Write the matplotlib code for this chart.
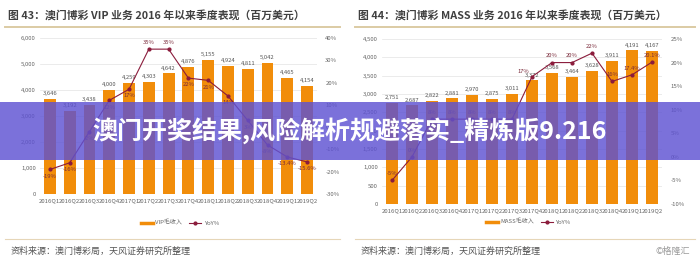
import matplotlib
matplotlib.use("Agg")
import matplotlib.pyplot as plt
from matplotlib.lines import Line2D
from matplotlib.patches import Rectangle
from matplotlib.ticker import FuncFormatter, MultipleLocator

plt.rcParams['font.family'] = ['Noto Sans CJK SC', 'DejaVu Sans']

quarters = ["2016Q1", "2016Q2", "2016Q3", "2016Q4", "2017Q1", "2017Q2", "2017Q3",
            "2017Q4", "2018Q1", "2018Q2", "2018Q3", "2018Q4", "2019Q1", "2019Q2"]

vip_revenue = [3646, 3192, 3438, 4000, 4259, 4303, 4642, 4876, 5155, 4924, 4811, 5042, 4465, 4154]
vip_yoy = [-19, -16, -2, 12, 17, 35, 35, 22, 21, 14, 3, -8, -13.4, -15.6]
vip_yoy_labels = ["-19%", "-16%", "-2%", "12%", "17%", "35%", "35%", "22%", "21%", "14%",
                  "3%", "-8%", "-13.4%", "-15.6%"]

mass_revenue = [2751, 2687, 2822, 2881, 2970, 2875, 3011, 3372, 3568, 3464, 3628, 3911, 4191, 4167]
mass_yoy = [-5, 0, 8, 8, 8, 8, 8, 17, 20, 20, 22, 16, 17.4, 20.1]
mass_yoy_labels = ["-5%", "0%", "8%", "8%", "8%", "8%", "8%", "17%", "20%", "20%", "22%",
                   "16%", "17.4%", "20.1%"]

titles = ["图 43：澳门博彩 VIP 业务 2016 年以来季度表现（百万美元）",
          "图 44：澳门博彩 MASS 业务 2016 年以来季度表现（百万美元）"]
bar_names = ["VIP毛收入", "MASS毛收入"]
line_name = "YoY%"
source_text = "资料来源：澳门博彩局，天风证券研究所整理"
watermark = "©格隆汇"
banner_text = "澳门开奖结果,风险解析规避落实_精炼版9.216"

BAR = '#f18d0a'
LINE = '#8b1c3c'
TICK = '#666666'
W, H = 700, 261

fig = plt.figure(figsize=(7.0, 2.61), dpi=100)
fig.patch.set_facecolor('white')


def fx(px):
    return px / W


def fy(py):
    return 1 - py / H


def panel(rect, revenue, yoy, yoy_labels, ylim, ystep, plim, pstep, label_pos):
    ax = fig.add_axes(rect)
    x = list(range(len(quarters)))
    ax.bar(x, revenue, width=0.6, color=BAR, zorder=2)
    ax.set_xlim(-0.5, len(quarters) - 0.5)
    ax.set_ylim(*ylim)
    ax.yaxis.set_major_locator(MultipleLocator(ystep))
    ax.yaxis.set_major_formatter(FuncFormatter(lambda v, p: f"{int(v):,}"))
    ax.grid(axis='y', color='#e3e3e3', lw=0.5, zorder=0)
    ax.set_xticks(x)
    ax.set_xticklabels(quarters)
    for s in ax.spines.values():
        s.set_visible(False)
    ax.tick_params(length=0, labelsize=4.3, colors=TICK, pad=3)
    for i, v in enumerate(revenue):
        ax.annotate(f"{v:,}", (i, v), xytext=(0, 2), textcoords='offset points',
                    ha='center', va='bottom', fontsize=4.2, color='#555555')
    ax2 = ax.twinx()
    ax2.plot(x, yoy, color=LINE, lw=0.8, marker='o', ms=2, zorder=3)
    ax2.set_ylim(*plim)
    ax2.yaxis.set_major_locator(MultipleLocator(pstep))
    ax2.yaxis.set_major_formatter(FuncFormatter(lambda v, p: f"{int(round(v))}%"))
    for s in ax2.spines.values():
        s.set_visible(False)
    ax2.tick_params(length=0, labelsize=4.3, colors=TICK, pad=6)
    for i, (v, t) in enumerate(zip(yoy, yoy_labels)):
        pos = label_pos[i]
        if pos == 'below':
            off, ha, va = (0, -3), 'center', 'top'
        elif pos == 'left':
            off, ha, va = (-2, 2), 'right', 'bottom'
        else:
            off, ha, va = (0, 3), 'center', 'bottom'
        ax2.annotate(t, (i, v), xytext=off, textcoords='offset points',
                     ha=ha, va=va, fontsize=4.2, color='#7a2a3a')
    return ax, ax2


vip_pos = ['below'] * 5 + ['above', 'above'] + ['below'] * 7
mass_pos = ['above'] * 7 + ['left'] + ['above'] * 6

panel([fx(40), 67 / H, 277 / W, 156 / H], vip_revenue, vip_yoy, vip_yoy_labels,
      (0, 6000), 1000, (-30, 40), 10, vip_pos)
panel([fx(382), 57 / H, 280 / W, 165 / H], mass_revenue, mass_yoy, mass_yoy_labels,
      (0, 4500), 500, (-10, 25), 5, mass_pos)

# titles and rules
for x0, x1, t in [(8, 340, titles[0]), (358, 695, titles[1])]:
    fig.text(fx(x0), fy(15), t, fontsize=7.8, color='#404040', va='center', ha='left',
             fontweight='bold')
    fig.add_artist(Line2D([fx(x0 - 3), fx(x1)], [fy(27), fy(27)], color='#dccba4', lw=1.4))
    fig.add_artist(Line2D([fx(x0 - 3), fx(x1)], [fy(239), fy(239)], color='#e6d6b8', lw=0.8))
    fig.text(fx(x0 + 3), fy(251), source_text, fontsize=6.5, color='#555555', va='center',
             ha='left')
fig.text(fx(690), fy(251), watermark, fontsize=6.5, color='#999999', va='center', ha='right')

# legends
for cx, cy, name in [(180, 223, bar_names[0]), (528, 222, bar_names[1])]:
    handles = [Line2D([0], [0], color=BAR, lw=2.5),
               Line2D([0], [0], color=LINE, lw=0.8, marker='o', ms=2)]
    fig.legend(handles, [name, line_name], loc='center', bbox_to_anchor=(fx(cx), fy(cy)),
               ncol=2, frameon=False, fontsize=4.3, handlelength=2.0, columnspacing=1.2,
               handletextpad=0.4, labelcolor='#666666')

# banner overlay
fig.add_artist(Rectangle((0, fy(160)), 1, (160 - 102) / H, transform=fig.transFigure,
                         facecolor='#5e52d2', alpha=0.82, edgecolor='none', zorder=10))
fig.text(0.5, fy(131), banner_text, fontsize=18, color='white', fontweight='bold',
         ha='center', va='center', zorder=11)

fig.savefig('out.png', dpi=100)
